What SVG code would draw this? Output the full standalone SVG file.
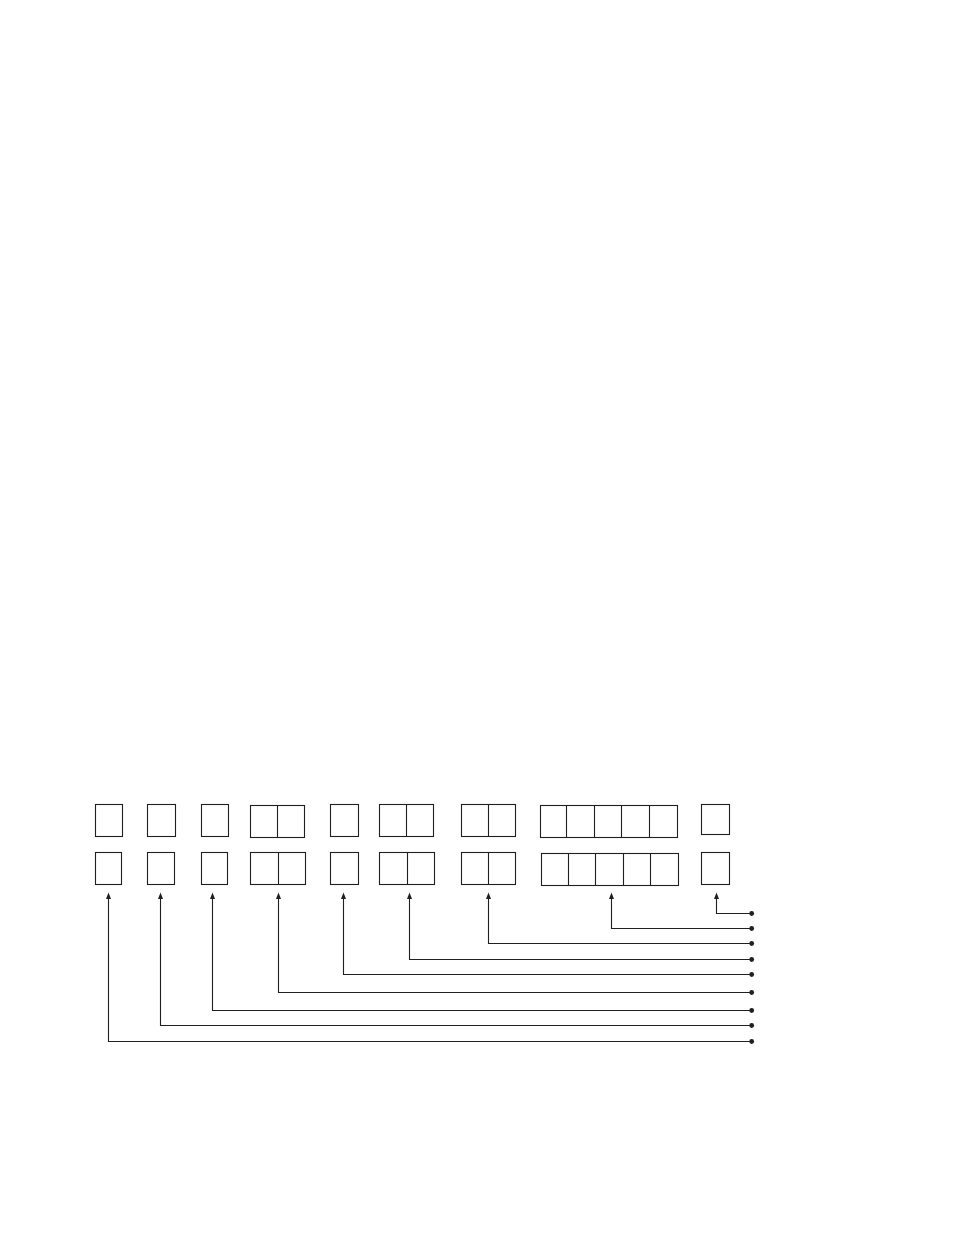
<svg xmlns="http://www.w3.org/2000/svg" width="954" height="1235" viewBox="0 0 954 1235">
<style>
.b{fill:none;stroke:#231f20;stroke-width:1.1}
.c{fill:none;stroke:#231f20;stroke-width:1.1}
.d{fill:#231f20}
</style>
<defs>
<marker id="ah" markerUnits="userSpaceOnUse" markerWidth="6" markerHeight="8" refX="3" refY="0" viewBox="0 0 6 8" orient="auto-start-reverse" overflow="visible">
<path d="M0,0 L3,-6.5 L6,0 Z" transform="translate(0,0)" fill="#231f20"/>
</marker>
</defs>
<rect width="954" height="1235" fill="#fff"/>
<g id="top-row">
<g id="t1"><rect class="b" x="95.5" y="804.5" width="27" height="32"/></g>
<g id="t2"><rect class="b" x="147.5" y="804.5" width="28" height="32"/></g>
<g id="t3"><rect class="b" x="201.5" y="804.5" width="27" height="32"/></g>
<g id="t4"><rect class="b" x="250.5" y="805.5" width="54" height="32"/><line class="b" x1="277.5" y1="805.5" x2="277.5" y2="837.5"/></g>
<g id="t5"><rect class="b" x="330.5" y="804.5" width="28" height="32"/></g>
<g id="t6"><rect class="b" x="379.5" y="804.5" width="54" height="32"/><line class="b" x1="406.5" y1="804.5" x2="406.5" y2="836.5"/></g>
<g id="t7"><rect class="b" x="461.5" y="804.5" width="54" height="32"/><line class="b" x1="488.5" y1="804.5" x2="488.5" y2="836.5"/></g>
<g id="t8"><rect class="b" x="540.5" y="805.5" width="137" height="32"/><path class="b" d="M566.5,805.5V837.5M594.5,805.5V837.5M621.5,805.5V837.5M649.5,805.5V837.5"/></g>
<g id="t9"><rect class="b" x="701.5" y="804.5" width="28" height="30"/></g>
</g>
<g id="bottom-row">
<g id="b1"><rect class="b" x="95.5" y="852.5" width="26" height="32"/></g>
<g id="b2"><rect class="b" x="147.5" y="852.5" width="27" height="32"/></g>
<g id="b3"><rect class="b" x="201.5" y="852.5" width="26" height="32"/></g>
<g id="b4"><rect class="b" x="250.5" y="852.5" width="55" height="32"/><line class="b" x1="278.5" y1="852.5" x2="278.5" y2="884.5"/></g>
<g id="b5"><rect class="b" x="330.5" y="852.5" width="28" height="32"/></g>
<g id="b6"><rect class="b" x="379.5" y="852.5" width="55" height="32"/><line class="b" x1="407.5" y1="852.5" x2="407.5" y2="884.5"/></g>
<g id="b7"><rect class="b" x="461.5" y="852.5" width="54" height="32"/><line class="b" x1="488.5" y1="852.5" x2="488.5" y2="884.5"/></g>
<g id="b8"><rect class="b" x="541.5" y="853.5" width="137" height="32"/><path class="b" d="M568.5,853.5V885.5M595.5,853.5V885.5M623.5,853.5V885.5M650.5,853.5V885.5"/></g>
<g id="b9"><rect class="b" x="701.5" y="852.5" width="28" height="32"/></g>
</g>
<g id="connectors">
<path class="c" d="M751.5,913.5H716.5V898"/>
<path class="c" d="M751.5,928.5H611.5V898"/>
<path class="c" d="M751.5,943.5H488.5V898"/>
<path class="c" d="M751.5,959.5H409.5V898"/>
<path class="c" d="M751.5,974.5H343.5V898"/>
<path class="c" d="M751.5,992.5H278.5V898"/>
<path class="c" d="M751.5,1010.5H212.5V898"/>
<path class="c" d="M751.5,1025.5H160.5V898"/>
<path class="c" d="M751.5,1041.5H108.5V898"/>
<g class="d">
<path d="M714,899 L716.5,892.5 L719,899 Z"/>
<path d="M609,899 L611.5,892.5 L614,899 Z"/>
<path d="M486,899 L488.5,892.5 L491,899 Z"/>
<path d="M407,899 L409.5,892.5 L412,899 Z"/>
<path d="M341,899 L343.5,892.5 L346,899 Z"/>
<path d="M276,899 L278.5,892.5 L281,899 Z"/>
<path d="M210,899 L212.5,892.5 L215,899 Z"/>
<path d="M158,899 L160.5,892.5 L163,899 Z"/>
<path d="M106,899 L108.5,892.5 L111,899 Z"/>
<circle cx="751.7" cy="913.5" r="2.4"/>
<circle cx="751.7" cy="928.5" r="2.4"/>
<circle cx="751.7" cy="943.5" r="2.4"/>
<circle cx="751.7" cy="959.5" r="2.4"/>
<circle cx="751.7" cy="974.5" r="2.4"/>
<circle cx="751.7" cy="992.5" r="2.4"/>
<circle cx="751.7" cy="1010.5" r="2.4"/>
<circle cx="751.7" cy="1025.5" r="2.4"/>
<circle cx="751.7" cy="1041.5" r="2.4"/>
</g>
</g>
</svg>
